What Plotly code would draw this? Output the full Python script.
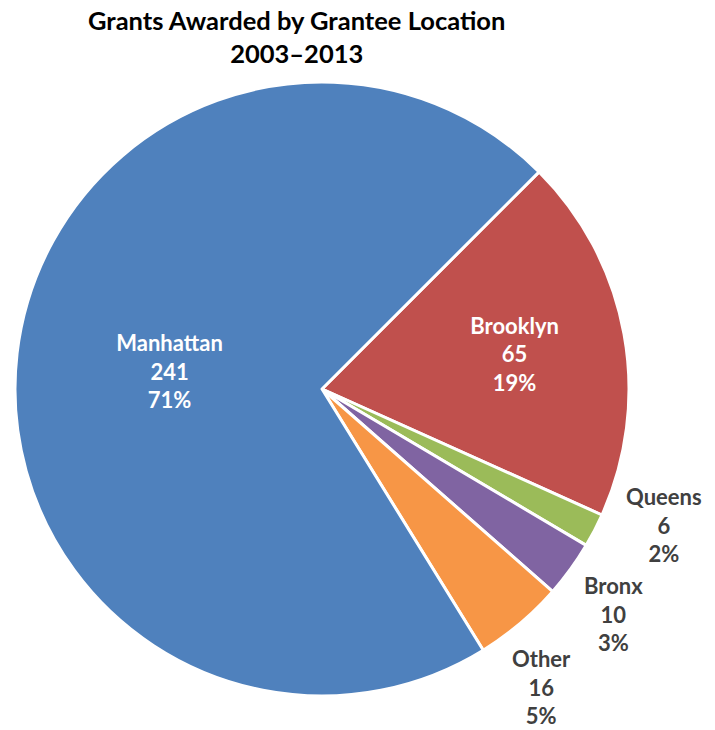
import math
import plotly.graph_objects as go

# Grant counts by grantee location, 2003–2013
locations = ["Brooklyn", "Queens", "Bronx", "Other", "Manhattan"]
grants = [65, 6, 10, 16, 241]
slice_colors = ["#C0504D", "#9BBB59", "#8064A2", "#F79646", "#4F81BD"]
inside_label = [True, False, False, False, True]

title_lines = ["Grants Awarded by Grantee Location", "2003–2013"]

W, H = 715, 730
cx, cy, r = 322, 389, 307  # pie centre and radius in pixels
rotation = 45
label_size = 22
label_font = "Lato"

total = sum(grants)
label_template = "<b>%{label}</b><br><b>%{value}</b><br><b>%{percent:.0%}</b>"

fig = go.Figure(
    go.Pie(
        labels=locations,
        values=grants,
        sort=False,
        direction="clockwise",
        rotation=rotation,
        marker=dict(colors=slice_colors, line=dict(color="white", width=3)),
        texttemplate=[label_template if inside else "" for inside in inside_label],
        textposition="inside",
        insidetextorientation="horizontal",
        insidetextfont=dict(family=label_font, size=label_size, color="#FFFFFF"),
        showlegend=False,
        hoverinfo="label+value+percent",
        domain=dict(
            x=[(cx - r) / W, (cx + r) / W],
            y=[(H - cy - r) / H, (H - cy + r) / H],
        ),
    )
)

# Mid-angle of every slice (degrees clockwise from 12 o'clock)
mid_angles = []
running = 0
for v in grants:
    mid_angles.append(rotation + 360 * (running + v / 2) / total)
    running += v

# Outside labels for the small slices, spread apart so they don't collide
outside = [i for i, inside in enumerate(inside_label) if not inside]
angles = {i: mid_angles[i] for i in outside}
min_sep = 16
for _ in range(200):
    for a, b in zip(outside, outside[1:]):
        gap = angles[b] - angles[a]
        if gap < min_sep:
            push = (min_sep - gap) / 2
            angles[a] -= push
            angles[b] += push

line_h = 1.3 * label_size
for i in outside:
    pct = round(100 * grants[i] / total)
    lines = [locations[i], str(grants[i]), f"{pct}%"]
    box_w = 0.57 * label_size * max(len(s) for s in lines)
    box_h = len(lines) * line_h
    th = math.radians(angles[i])
    sx, sy = math.sin(th), -math.cos(th)  # screen direction (y down)
    d = r + 10 + abs(sx) * box_w / 2 + abs(sy) * box_h / 2
    px, py = cx + d * sx, cy + d * sy
    fig.add_annotation(
        text="<br>".join(f"<b>{s}</b>" for s in lines),
        x=px / W,
        y=1 - py / H,
        xref="paper",
        yref="paper",
        xanchor="center",
        yanchor="middle",
        showarrow=False,
        font=dict(family=label_font, size=label_size, color="#404040"),
    )

fig.add_annotation(
    text="<br>".join(f"<b>{s}</b>" for s in title_lines),
    x=296 / W,
    y=1 - 36 / H,
    xref="paper",
    yref="paper",
    xanchor="center",
    yanchor="middle",
    showarrow=False,
    font=dict(family=label_font, size=25.5, color="#000000"),
)

fig.update_layout(
    width=W,
    height=H,
    margin=dict(l=0, r=0, t=0, b=0),
    paper_bgcolor="white",
    plot_bgcolor="white",
)

fig.write_html("out.html")
